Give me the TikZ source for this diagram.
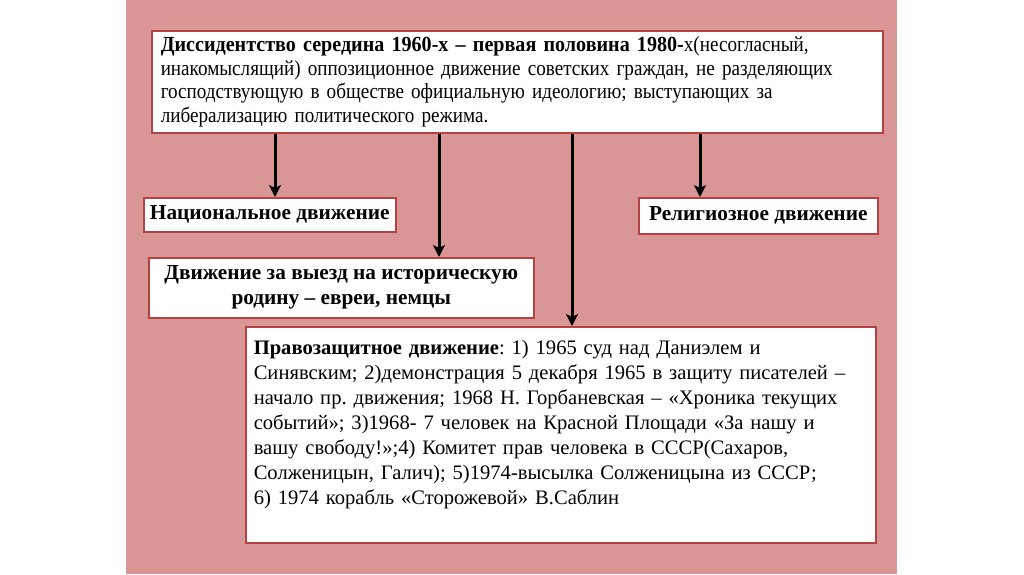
\documentclass[tikz,border=0pt]{standalone}
\usepackage{fontspec}
\setmainfont{Liberation Serif}
\newfontfamily\narrowserif[FakeStretch=0.89, BoldFeatures={FakeStretch=0.935}]{Liberation Serif}
\usepackage{xcolor}
\usetikzlibrary{arrows.meta, positioning}
\definecolor{slidepink}{RGB}{217,150,148}
\definecolor{boxred}{RGB}{180,66,66}
\tikzstyle{arrow} = [line width=3pt,-{Stealth[length=12pt,width=12pt,inset=3pt]}]

\begin{document}
\frenchspacing
\begin{tikzpicture}[x=1pt, y=-1pt]
    \tikzstyle{box} = [rectangle, draw=boxred, line width=1.5pt, fill=white, anchor=north west, inner sep=0pt]
    \tikzstyle{smallbox} = [box, font=\fontsize{21.3}{25}\selectfont\bfseries, align=center]

    \useasboundingbox (0,0) rectangle (1024,574);
    \fill[white] (0,0) rectangle (1024,574);
    \fill[slidepink] (126,0) rectangle (897,574);

    \node[box, minimum width=731pt, minimum height=102pt, text width=713pt, align=left, font=\narrowserif\fontsize{21.5}{23.5}\selectfont] (dis) at (151,30)
        {\textbf{Диссидентство середина 1960-х – первая половина 1980-}х(несогласный,\\
         инакомыслящий) оппозиционное движение советских граждан, не разделяющих\\
         господствующую в обществе официальную идеологию; выступающих за\\
         либерализацию политического режима.};
    \node[smallbox, minimum width=252pt, minimum height=34pt] (nat) at (143,197) {Национальное движение};
    \node[smallbox, minimum width=239pt, minimum height=36pt] (rel) at (638,197) {Религиозное движение};
    \node[smallbox, minimum width=385pt, minimum height=60pt] (emig) at (148,257) {Движение за выезд на историческую\\ родину – евреи, немцы};
    \node[box, text width=614pt, inner xsep=8pt, inner ysep=8pt, text height=20pt, text depth=180pt, align=left, font=\fontsize{20.6}{25}\selectfont] (rights) at (245,326)
        {\textbf{Правозащитное движение}: 1) 1965 суд над Даниэлем и\\
         Синявским; 2)демонстрация 5 декабря 1965 в защиту писателей –\\
         начало пр. движения; 1968 Н. Горбаневская – «Хроника текущих\\
         событий»; 3)1968- 7 человек на Красной Площади «За нашу и\\
         вашу свободу!»;4) Комитет прав человека в СССР(Сахаров,\\
         Солженицын, Галич); 5)1974-высылка Солженицына из СССР;\\
         6) 1974 корабль «Сторожевой» В.Саблин};

    \draw[arrow] ([xshift=124pt]dis.south west) -- ([xshift=132pt]nat.north west);
    \draw[arrow] ([xshift=288pt]dis.south west) -- ([xshift=291pt]emig.north west);
    \draw[arrow] ([xshift=421pt]dis.south west) -- ([xshift=327pt]rights.north west);
    \draw[arrow] ([xshift=549pt]dis.south west) -- ([xshift=62pt]rel.north west);
\end{tikzpicture}
\end{document}
